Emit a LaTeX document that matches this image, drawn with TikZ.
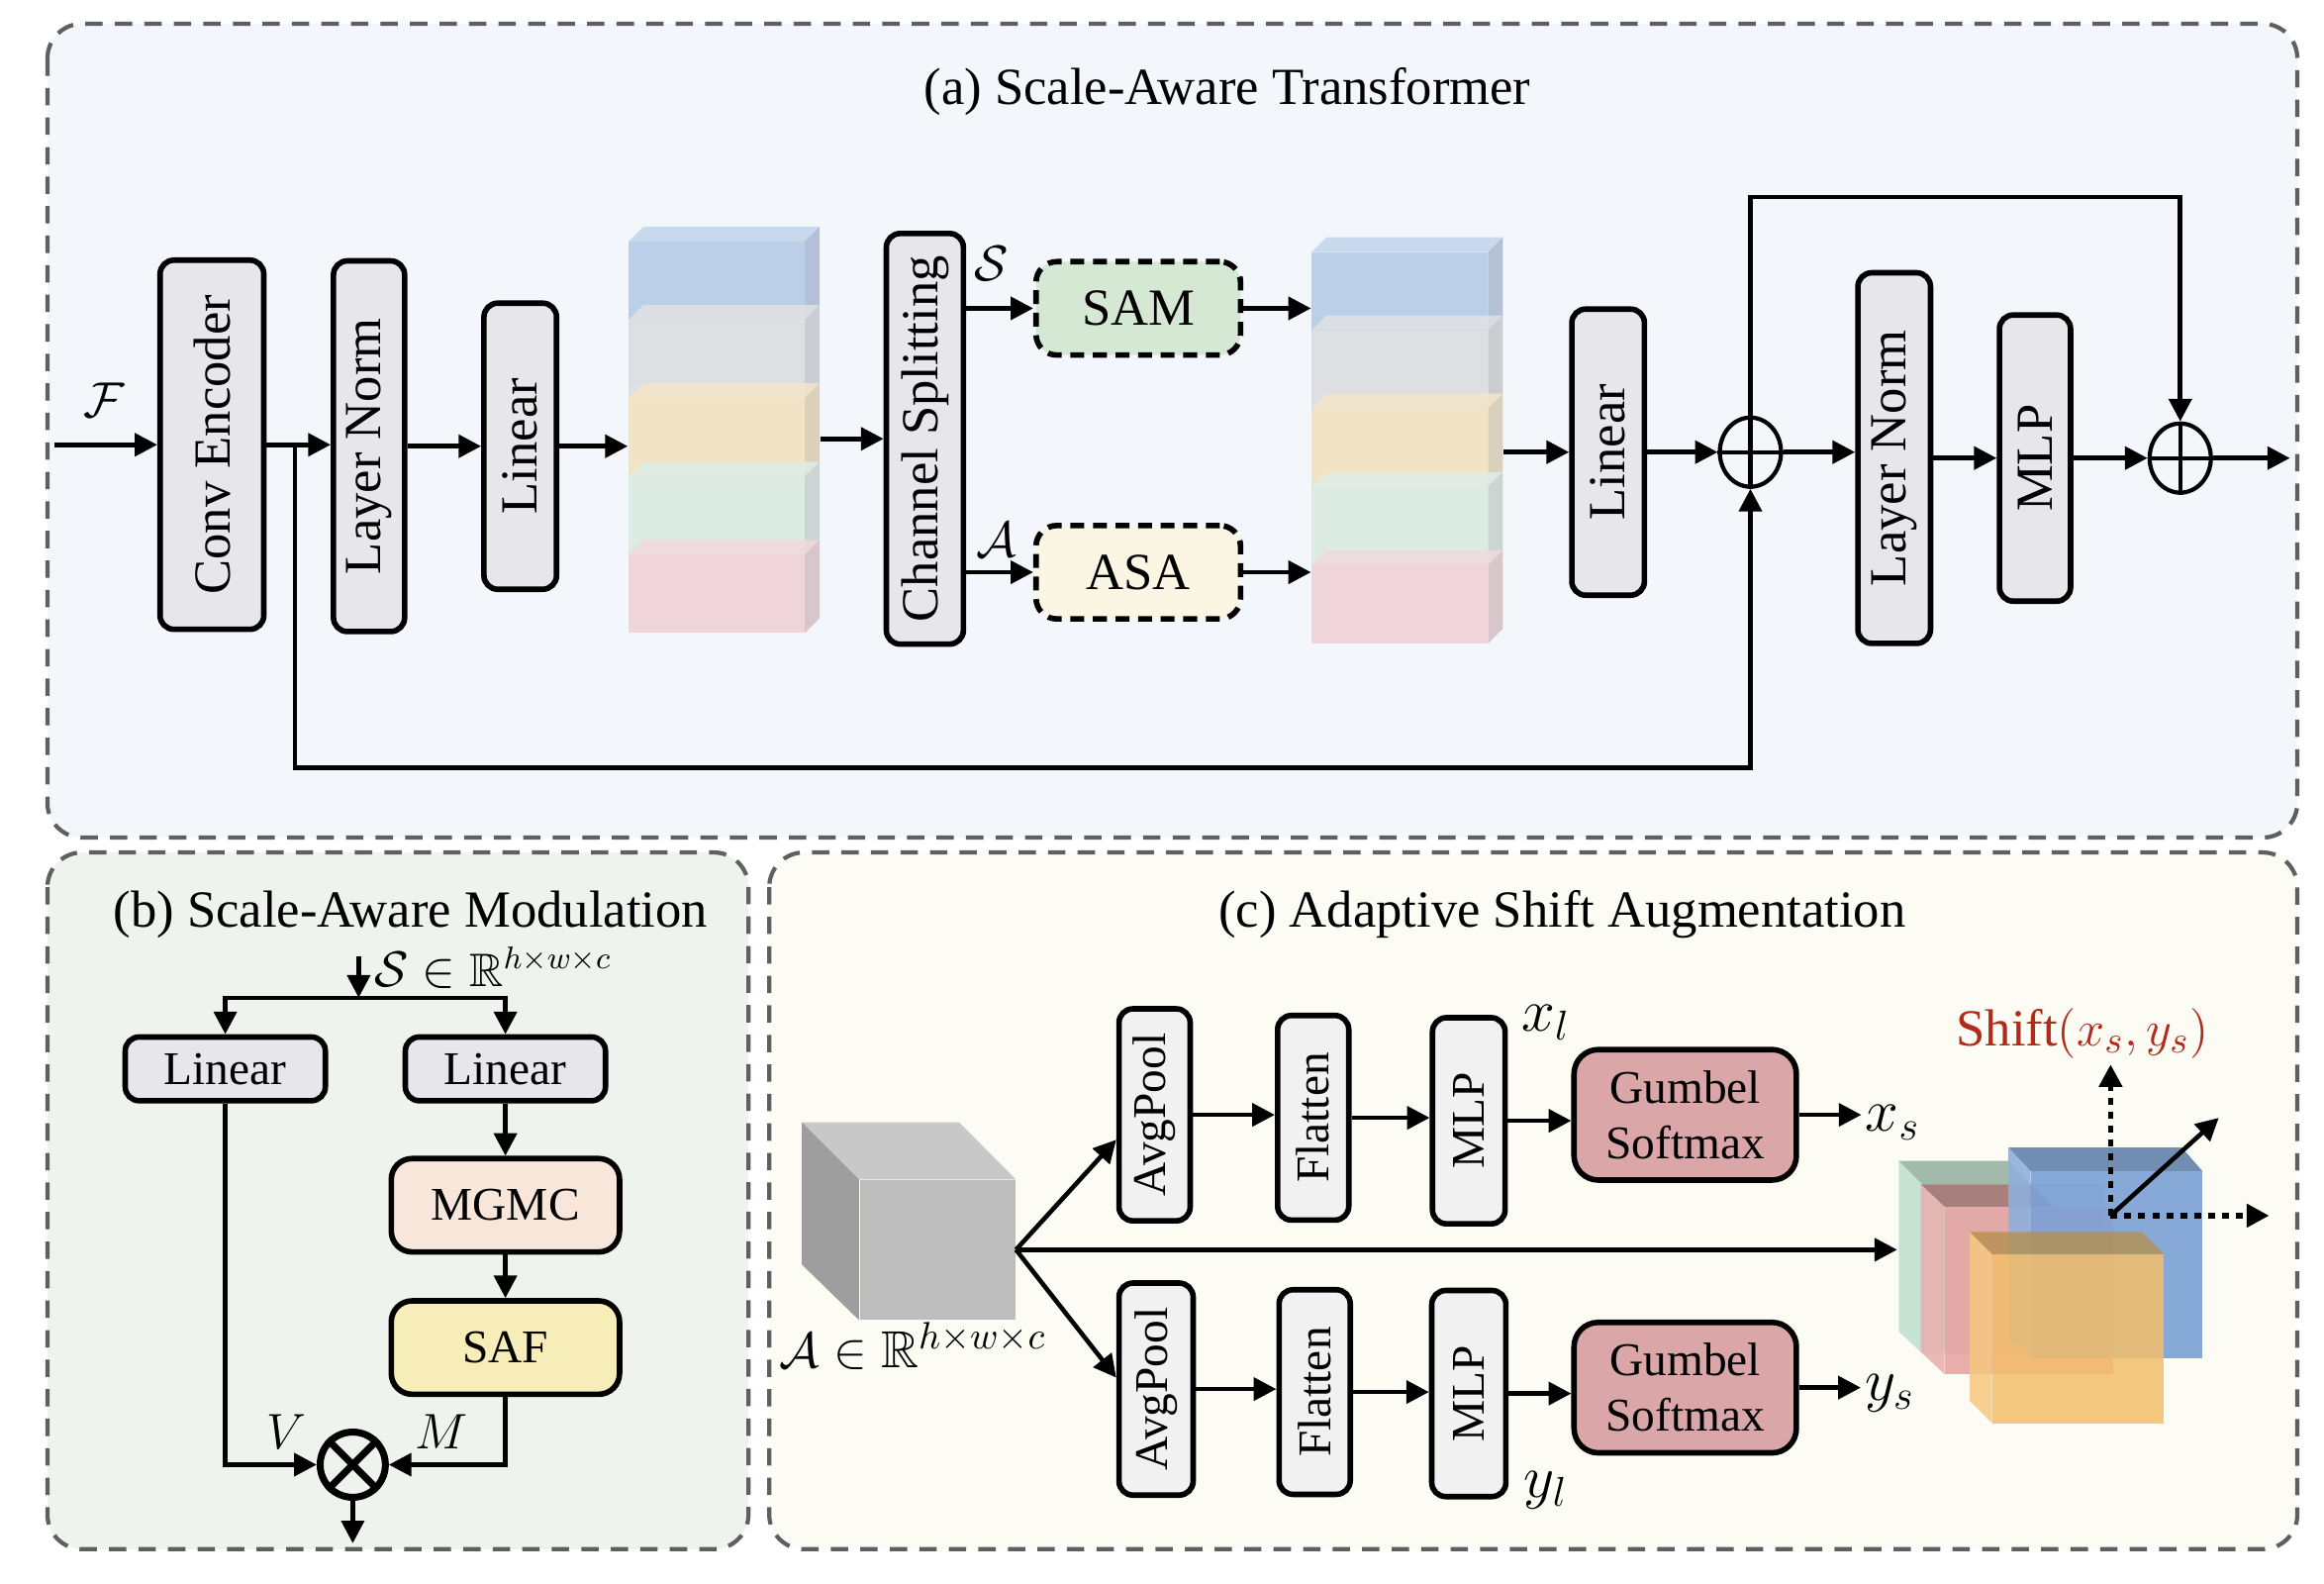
\documentclass[tikz,border=0pt]{standalone}
\usepackage{amsmath,amssymb}
\usepackage{fontspec}
\setmainfont{Liberation Serif}
\usetikzlibrary{arrows.meta, positioning, shapes.geometric}
\newcommand{\satfont}{\fontsize{15}{18}\selectfont}
\newcommand{\smfont}{\fontsize{13.5}{16}\selectfont}
\newcommand{\varfont}{\fontsize{18}{20}\selectfont}
\definecolor{satbg}{RGB}{243,246,251}
\definecolor{sambg}{RGB}{239,243,238}
\definecolor{asabg}{RGB}{252,252,244}
\definecolor{dashgray}{RGB}{95,95,95}
\definecolor{boxgray}{RGB}{231,230,234}
\definecolor{boxlight}{RGB}{241,241,241}
\definecolor{samgreen}{RGB}{213,232,212}
\definecolor{asacream}{RGB}{251,246,227}
\definecolor{mgmcpeach}{RGB}{249,230,219}
\definecolor{safyellow}{RGB}{247,237,184}
\definecolor{gumbred}{RGB}{219,166,168}
\definecolor{shiftred}{RGB}{178,42,26}
\definecolor{stkblue}{RGB}{184,205,232}
\definecolor{stkgray}{RGB}{221,222,225}
\definecolor{stkyellow}{RGB}{242,226,195}
\definecolor{stkgreen}{RGB}{220,235,228}
\definecolor{stkpink}{RGB}{239,212,216}
\definecolor{slgreen}{RGB}{190,224,205}
\definecolor{slred}{RGB}{232,160,160}
\definecolor{slblue}{RGB}{123,161,214}
\definecolor{slorange}{RGB}{243,190,106}
\definecolor{cubefront}{RGB}{189,189,189}
\definecolor{cubeside}{RGB}{158,158,158}
\definecolor{cubetop}{RGB}{200,200,200}

\begin{document}
\begin{tikzpicture}[x=0.015cm, y=-0.015cm, >={Triangle[length=6.5pt,width=6.5pt]},
  panel/.style={draw=dashgray, line width=1.2pt, dash pattern=on 5pt off 3.5pt, rounded corners=10pt},
  box/.style={draw, line width=1.6pt, rounded corners=4pt, fill=boxgray, inner sep=0pt,
              align=center, font=\satfont},
  sbox/.style={box, fill=boxlight, font=\smfont},
  dbox/.style={box, dash pattern=on 4pt off 2.5pt, rounded corners=6pt,
               minimum width=2.07cm, minimum height=0.945cm},
  arr/.style={->, line width=1.3pt},
  dots/.style={->, line width=1.6pt, dash pattern=on 2pt off 2pt},
  addop/.style={draw, ellipse, line width=1.2pt, minimum width=0.62cm, minimum height=0.7cm, inner sep=0pt},
  lbl/.style={inner sep=1pt, font=\satfont},
  vlbl/.style={inner sep=1pt, font=\varfont}]
  \useasboundingbox (0,0) rectangle (1568,1068);

  % Panels
  \draw[panel, fill=satbg] (32,16) rectangle (1550,565);
  \draw[panel, fill=sambg] (32,575) rectangle (505,1045);
  \draw[panel, fill=asabg] (519,575) rectangle (1550,1045);
  \node[lbl] (ttla) at (828,62) {(a) Scale-Aware Transformer};
  \node[lbl] (ttlb) at (277,617) {(b) Scale-Aware Modulation};
  \node[lbl] (ttlc) at (1054,617) {(c) Adaptive Shift Augmentation};

  % (a) Scale-Aware Transformer
  \coordinate (fin) at (37,300);
  \node[box, minimum width=1.05cm, minimum height=3.735cm] (conv) at (143,300)
    {\rotatebox{90}{Conv Encoder}};
  \node[box, minimum width=0.72cm, minimum height=3.75cm] (ln1) at (249,301)
    {\rotatebox{90}{Layer Norm}};
  \node[box, minimum width=0.735cm, minimum height=2.895cm] (lin1) at (351,301)
    {\rotatebox{90}{Linear}};
  \node[box, minimum width=0.78cm, minimum height=4.155cm] (cs) at (624,296)
    {\rotatebox{90}{Channel Splitting}};
  \node[dbox, fill=samgreen] (sam) at (768,208) {SAM};
  \node[dbox, fill=asacream] (asa) at (768,386) {ASA};
  \node[box, minimum width=0.735cm, minimum height=2.895cm] (lin2) at (1085,305)
    {\rotatebox{90}{Linear}};
  \node[addop] (add1) at (1181,305) {};
  \node[box, minimum width=0.735cm, minimum height=3.75cm] (ln2) at (1278,309)
    {\rotatebox{90}{Layer Norm}};
  \node[box, minimum width=0.72cm, minimum height=2.895cm] (mlpa) at (1373,309)
    {\rotatebox{90}{MLP}};
  \node[addop] (add2) at (1471,309) {};
  \coordinate (aout) at (1545,309);
  \draw[line width=1.2pt] (add1.north) -- (add1.south) (add1.west) -- (add1.east);
  \draw[line width=1.2pt] (add2.north) -- (add2.south) (add2.west) -- (add2.east);

  % feature stacks
  \node[minimum width=1.935cm, minimum height=4.11cm, inner sep=0pt] (stk1) at (488.5,290) {};
  \node[minimum width=1.935cm, minimum height=4.11cm, inner sep=0pt] (stk2) at (949.5,297) {};
  \foreach \xo/\yo in {424/163, 885/170} {
    \foreach \c [count=\i from 0] in {stkblue,stkgray,stkyellow,stkgreen,stkpink} {
      \pgfmathsetmacro{\yt}{\yo+52.8*\i}
      \fill[\c, fill opacity=0.95] (\xo,\yt) rectangle (\xo+119,\yt+52.8);
      \fill[\c!88!white, fill opacity=0.85] (\xo,\yt) -- (\xo+10,\yt-10) -- (\xo+129,\yt-10)
        -- (\xo+119,\yt) -- cycle;
      \fill[\c!88!black, fill opacity=0.8] (\xo+119,\yt) -- (\xo+129,\yt-10)
        -- (\xo+129,\yt+42.8) -- (\xo+119,\yt+52.8) -- cycle;
    }
  }

  \node[lbl] (flbl) at (70,270) {$\mathcal{F}$};
  \node[lbl] (slbl) at (669,178) {$\mathcal{S}$};
  \node[lbl] (albla) at (672,364) {$\mathcal{A}$};

  \coordinate (jn) at (199,300);
  \coordinate (topy) at (1330,133);
  \coordinate (boty) at (700,518);
  \draw[arr] (fin) -- (conv.west);
  \draw[arr] (conv.east) -- (ln1.west |- conv.east);
  \draw[arr] (ln1.east |- lin1) -- (lin1.west);
  \draw[arr] (lin1.east) -- (stk1.west |- lin1.east);
  \draw[arr] (stk1.east |- cs) -- (cs.west);
  \draw[arr] (cs.east |- sam) -- (sam.west);
  \draw[arr] (cs.east |- asa) -- (asa.west);
  \draw[arr] (sam.east) -- (stk2.west |- sam.east);
  \draw[arr] (asa.east) -- (stk2.west |- asa.east);
  \draw[arr] (stk2.east |- lin2) -- (lin2.west);
  \draw[arr] (lin2.east) -- (add1.west);
  \draw[arr] (add1.east) -- (ln2.west |- add1.east);
  \draw[arr] (ln2.east |- mlpa) -- (mlpa.west);
  \draw[arr] (mlpa.east) -- (add2.west);
  \draw[arr] (add2.east) -- (aout);
  % residual paths
  \draw[arr] (add1.north) |- (topy) -| (add2.north);
  \draw[arr] (jn) |- (boty) -| (add1.south);

  % (b) Scale-Aware Modulation
  \coordinate (sin) at (242,645);
  \coordinate (split) at (242,673);
  \node[anchor=west, inner sep=1pt, font=\smfont] (sdim) at (250,653)
    {$\mathcal{S}\in\mathbb{R}^{h\times w\times c}$};
  \node[box, font=\smfont, minimum width=2.025cm, minimum height=0.645cm] (linl) at (152,721) {Linear};
  \node[box, font=\smfont, minimum width=2.025cm, minimum height=0.645cm] (linr) at (341,721) {Linear};
  \node[box, font=\smfont, fill=mgmcpeach, rounded corners=6pt,
        minimum width=2.31cm, minimum height=0.945cm] (mgmc) at (341,813) {MGMC};
  \node[box, font=\smfont, fill=safyellow, rounded corners=6pt,
        minimum width=2.31cm, minimum height=0.945cm] (saf) at (341,909) {SAF};
  \node[draw, circle, line width=2pt, minimum size=0.66cm, inner sep=0pt] (mul) at (238,988) {};
  \draw[line width=2pt] (mul.north west) -- (mul.south east) (mul.north east) -- (mul.south west);
  \coordinate (bout) at (238,1041);
  \draw[arr] (sin) -- (split);
  \draw[arr] (split) -| (linl.north);
  \draw[arr] (split) -| (linr.north);
  \draw[arr] (linr.south) -- (mgmc.north);
  \draw[arr] (mgmc.south) -- (saf.north);
  \draw[arr] (linl.south) |- (mul.west);
  \draw[arr] (saf.south) |- (mul.east);
  \draw[arr] (mul.south) -- (bout);
  \node[lbl] (vlbl) at (193,966) {$V$};
  \node[lbl] (mlbl) at (298,966) {$M$};

  % (c) Adaptive Shift Augmentation
  \node[fill=cubefront, minimum width=1.575cm, minimum height=1.41cm, inner sep=0pt] (cube) at (632.5,843) {};
  \fill[cubetop] (541,757) -- (647,757) -- (cube.north east) -- (cube.north west) -- cycle;
  \fill[cubeside] (541,757) -- (cube.north west) -- (cube.south west) -- (541,853) -- cycle;
  \node[lbl] (acube) at (616,908) {$\mathcal{A}\in\mathbb{R}^{h\times w\times c}$};

  \node[sbox, minimum width=0.72cm, minimum height=2.145cm] (ap1) at (779,752) {\rotatebox{90}{AvgPool}};
  \node[sbox, minimum width=0.72cm, minimum height=2.07cm] (fl1) at (886,754) {\rotatebox{90}{Flatten}};
  \node[sbox, minimum width=0.735cm, minimum height=2.085cm] (ml1) at (991,756) {\rotatebox{90}{MLP}};
  \node[box, font=\smfont, fill=gumbred, rounded corners=7pt,
        minimum width=2.25cm, minimum height=1.32cm] (gs1) at (1137,752) {Gumbel\\Softmax};
  \node[sbox, minimum width=0.75cm, minimum height=2.145cm] (ap2) at (780,937) {\rotatebox{90}{AvgPool}};
  \node[sbox, minimum width=0.72cm, minimum height=2.07cm] (fl2) at (887,939) {\rotatebox{90}{Flatten}};
  \node[sbox, minimum width=0.75cm, minimum height=2.085cm] (ml2) at (991,940) {\rotatebox{90}{MLP}};
  \node[box, font=\smfont, fill=gumbred, rounded corners=7pt,
        minimum width=2.25cm, minimum height=1.32cm] (gs2) at (1137,936) {Gumbel\\Softmax};

  \node[vlbl] (xl) at (1043,690) {$x_l$};
  \node[vlbl] (yl) at (1043,1005) {$y_l$};
  \node[vlbl] (xs) at (1277,757) {$x_s$};
  \node[vlbl] (ys) at (1275,940) {$y_s$};

  % shifted slabs
  \fill[slgreen, fill opacity=0.9] (1297,799) rectangle (1420,913);
  \fill[slgreen!80!black, fill opacity=0.9] (1281,783) -- (1355,783) -- (1370,799) -- (1297,799) -- cycle;
  \fill[slgreen!95!white, fill opacity=0.9] (1281,783) -- (1297,799) -- (1297,913) -- (1281,898) -- cycle;
  \fill[slred, fill opacity=0.85] (1312,814) rectangle (1426,927);
  \fill[slred!70!black, fill opacity=0.85] (1296,799) -- (1370,799) -- (1385,814) -- (1312,814) -- cycle;
  \fill[slred!85!white, fill opacity=0.85] (1296,799) -- (1312,814) -- (1312,927) -- (1296,912) -- cycle;
  \fill[slblue, fill opacity=0.9] (1370,790) rectangle (1486,916);
  \fill[slblue!80!black, fill opacity=0.9] (1355,774) -- (1472,774) -- (1486,790) -- (1370,790) -- cycle;
  \fill[slblue!85!white, fill opacity=0.9] (1355,774) -- (1370,790) -- (1370,916) -- (1355,902) -- cycle;
  \fill[slorange, fill opacity=0.85] (1344,846) rectangle (1460,960);
  \fill[slorange!75!black, fill opacity=0.8] (1329,831) -- (1445,831) -- (1460,846) -- (1344,846) -- cycle;
  \fill[slorange!85!white, fill opacity=0.85] (1329,831) -- (1344,846) -- (1344,960) -- (1329,945) -- cycle;

  \coordinate (mixin) at (1280,843);
  \coordinate (sh0) at (1424,820);
  \coordinate (shup) at (1424,718);
  \coordinate (shrt) at (1531,820);
  \coordinate (shdg) at (1497,754);
  \node[lbl, text=shiftred] (shift) at (1405,697) {Shift$(x_s,y_s)$};

  \draw[arr] (cube.east) -- (ap1.213);
  \draw[arr] (cube.east) -- (ap2.164);
  \draw[arr] (cube.east) -- (mixin);
  \draw[arr] (ap1.east) -- (fl1.west |- ap1.east);
  \draw[arr] (fl1.east) -- (ml1.west |- fl1.east);
  \draw[arr] (ml1.east) -- (gs1.west |- ml1.east);
  \draw[arr] (gs1.east) -- (xs.west |- gs1.east);
  \draw[arr] (ap2.east) -- (fl2.west |- ap2.east);
  \draw[arr] (fl2.east) -- (ml2.west |- fl2.east);
  \draw[arr] (ml2.east) -- (gs2.west |- ml2.east);
  \draw[arr] (gs2.east) -- (ys.west |- gs2.east);
  \draw[dots] (sh0) -- (shup);
  \draw[dots] (sh0) -- (shrt);
  \draw[arr] (sh0) -- (shdg);
\end{tikzpicture}
\end{document}
